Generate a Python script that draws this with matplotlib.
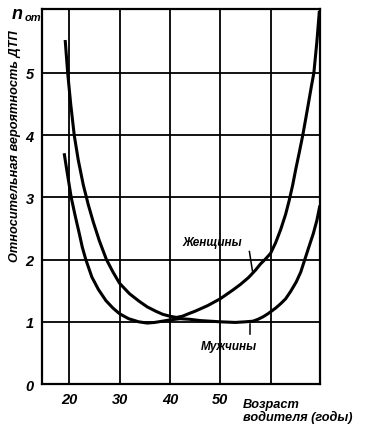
import matplotlib
matplotlib.use('Agg')
import matplotlib.pyplot as plt

plt.rcParams['font.family'] = ['Liberation Sans', 'DejaVu Sans']

# women curve (age, relative accident probability)
women_age = [19.2, 19.7, 20.3, 21.0, 21.8, 22.8, 23.8, 24.8, 26.0, 27.4, 28.7,
             30.0, 32.0, 33.9, 35.5, 37.2, 38.6, 40.0, 41.3, 42.5, 43.7, 45.0,
             47.5, 50.0, 52.5, 54.0, 55.6, 57.0, 58.0, 59.0, 60.0, 61.0, 62.0,
             63.0, 63.7, 64.4, 65.0, 65.7, 66.4, 67.0, 67.5, 68.1, 68.6, 69.2,
             69.7]
women_val = [5.53, 5.0, 4.5, 4.0, 3.6, 3.2, 2.88, 2.6, 2.3, 2.0, 1.8,
             1.62, 1.45, 1.33, 1.24, 1.17, 1.12, 1.09, 1.07, 1.09, 1.13, 1.17,
             1.26, 1.37, 1.51, 1.60, 1.71, 1.83, 1.93, 2.01, 2.10, 2.27, 2.48,
             2.73, 2.95, 3.2, 3.45, 3.72, 4.0, 4.27, 4.5, 4.78, 5.0, 5.5,
             6.0]

# men curve
men_age = [19.0, 19.5, 19.9, 20.4, 21.2, 22.0, 22.6, 23.3, 24.5, 25.8, 27.3,
           28.7, 30.0, 31.8, 33.8, 35.5, 37.0, 38.5, 40.0, 42.0, 44.0, 46.0,
           48.0, 50.0, 53.0, 55.0, 56.5, 57.5, 58.5, 59.3, 60.0, 61.0, 62.0,
           63.0, 64.0, 65.1, 66.0, 66.8, 67.6, 68.5, 69.2, 69.8]
men_val = [3.71, 3.45, 3.25, 3.0, 2.7, 2.42, 2.2, 2.0, 1.72, 1.52, 1.34,
           1.22, 1.13, 1.05, 1.0, 0.98, 0.99, 1.01, 1.03, 1.05, 1.04, 1.02,
           1.01, 1.0, 0.99, 1.0, 1.01, 1.04, 1.08, 1.12, 1.16, 1.22, 1.29,
           1.37, 1.49, 1.64, 1.8, 2.0, 2.2, 2.42, 2.63, 2.87]

x_ticks = [20, 30, 40, 50, 60]
x_labels = ['20', '30', '40', '50', '']
y_ticks = [0, 1, 2, 3, 4, 5]

fig = plt.figure(figsize=(3.66, 4.31), dpi=100)
ax = fig.add_axes([0.1148, 0.1067, 0.874 - 0.1148, 0.977 - 0.1067])

ax.plot(women_age, women_val, color='black', lw=2.2, solid_capstyle='butt')
ax.plot(men_age, men_val, color='black', lw=2.2, solid_capstyle='butt')

ax.set_xlim(14.6, 69.8)
ax.set_ylim(0, 6.03)
ax.set_xticks(x_ticks)
ax.set_xticklabels(x_labels)
ax.set_yticks(y_ticks)
ax.grid(True, color='black', lw=1.3)
ax.tick_params(length=0, labelsize=10.5, pad=6)
for lab in ax.get_xticklabels() + ax.get_yticklabels():
    lab.set_fontweight('bold')
    lab.set_fontstyle('italic')
for s in ax.spines.values():
    s.set_linewidth(1.6)

# y axis title placed by hand (it sits higher than the axes centre)
fig.text(0.041, 0.661, 'Относительная вероятность ДТП', fontsize=9.2,
         fontweight='bold', fontstyle='italic', rotation=90,
         ha='center', va='center')

fig.text(0.033, 0.966, 'n', fontsize=13, fontweight='bold', fontstyle='italic',
         va='center', ha='left')
fig.text(0.067, 0.958, 'от', fontsize=8, fontweight='bold', fontstyle='italic',
         va='center', ha='left')

fig.text(0.664, 0.045, 'Возраст\nводителя (годы)', fontsize=9.2,
         fontweight='bold', fontstyle='italic', va='center', ha='left',
         linespacing=1.0)

ax.text(48.5, 2.29, 'Женщины', fontsize=8.5, fontweight='bold',
        fontstyle='italic', ha='center', va='center')
ax.text(51.7, 0.61, 'Мужчины', fontsize=8.5, fontweight='bold',
        fontstyle='italic', ha='center', va='center')
ax.plot([55.8, 56.4], [2.13, 1.82], color='black', lw=1.1)
ax.plot([56.0, 56.0], [0.96, 0.80], color='black', lw=1.1)

fig.savefig('out.png', dpi=100)
